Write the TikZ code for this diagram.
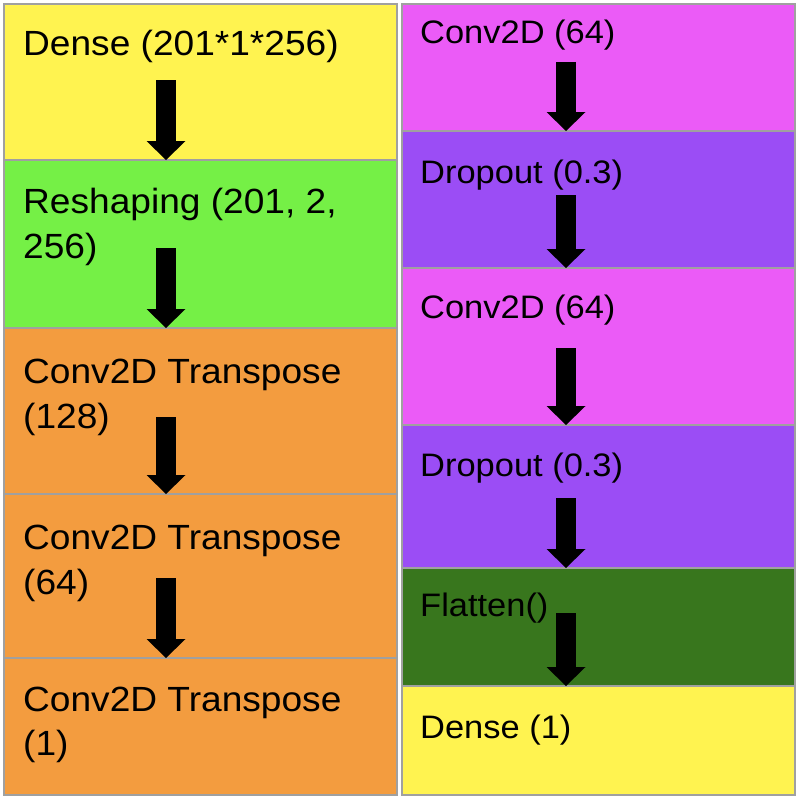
\documentclass[tikz,border=0pt]{standalone}
\usepackage{fontspec}
\setmainfont{Liberation Sans}[FakeStretch=1.06]
\usetikzlibrary{arrows.meta}
\definecolor{yellowc}{HTML}{FFF350}
\definecolor{greenc}{HTML}{75F046}
\definecolor{orangec}{HTML}{F39C3F}
\definecolor{magentac}{HTML}{EB5BF7}
\definecolor{purplec}{HTML}{9B4DF5}
\definecolor{darkgreenc}{HTML}{38761D}
\definecolor{edgec}{HTML}{A0A0A0}
\tikzset{
  layerbox/.style={draw=edgec, line width=1.2pt, inner sep=0pt, outer sep=0pt, anchor=north west, minimum width=393pt},
  lbl/.style={inner sep=0pt, anchor=base west, font=\fontsize{35pt}{45pt}\selectfont, text=black},
  rlbl/.style={lbl, font=\fontsize{32.5pt}{42pt}\selectfont},
  flow/.style={draw=black, line width=20pt, -{Triangle[width=39pt,length=19pt,line width=0pt]}}
}
\begin{document}
\begin{tikzpicture}[x=1pt,y=-1pt]
\useasboundingbox (0,0) rectangle (800,800);
\fill[white] (0,0) rectangle (800,800);
% left column
\node[layerbox, fill=yellowc, minimum height=156pt] (L1) at (4,4) {};
\node[layerbox, fill=greenc, minimum height=168pt] (L2) at (4,160) {};
\node[layerbox, fill=orangec, minimum height=166pt] (L3) at (4,328) {};
\node[layerbox, fill=orangec, minimum height=164pt] (L4) at (4,494) {};
\node[layerbox, fill=orangec, minimum height=137pt] (L5) at (4,658) {};
% right column
\node[layerbox, fill=magentac, minimum height=127pt] (R1) at (402,4) {};
\node[layerbox, fill=purplec, minimum height=137pt] (R2) at (402,131) {};
\node[layerbox, fill=magentac, minimum height=157pt] (R3) at (402,268) {};
\node[layerbox, fill=purplec, minimum height=143pt] (R4) at (402,425) {};
\node[layerbox, fill=darkgreenc, minimum height=118pt] (R5) at (402,568) {};
\node[layerbox, fill=yellowc, minimum height=109pt] (R6) at (402,686) {};
% labels left
\node[lbl] (t1) at (23,56) {Dense (201*1*256)};
\node[lbl] (t2a) at (23,213) {Reshaping (201, 2,};
\node[lbl] (t2b) at (23,258) {256)};
\node[lbl] (t3a) at (23,383) {Conv2D Transpose};
\node[lbl] (t3b) at (23,428) {(128)};
\node[lbl] (t4a) at (23,549) {Conv2D Transpose};
\node[lbl] (t4b) at (23,594) {(64)};
\node[lbl] (t5a) at (23,711) {Conv2D Transpose};
\node[lbl] (t5b) at (23,755) {(1)};
% labels right
\node[rlbl] (u1) at (420,44) {Conv2D (64)};
\node[rlbl] (u2) at (420,183) {Dropout (0.3)};
\node[rlbl] (u3) at (420,318) {Conv2D (64)};
\node[rlbl] (u4) at (420,476) {Dropout (0.3)};
\node[rlbl] (u5) at (420,616) {Flatten()};
\node[rlbl] (u6) at (420,738) {Dense (1)};
% arrows left
\coordinate (a1) at (166,80);
\coordinate (a2) at (166,248);
\coordinate (a3) at (166,417);
\coordinate (a4) at (166,578);
\draw[flow] (a1) -- (a1 |- L2.north);
\draw[flow] (a2) -- (a2 |- L3.north);
\draw[flow] (a3) -- (a3 |- L4.north);
\draw[flow] (a4) -- (a4 |- L5.north);
% arrows right
\coordinate (b1) at (566,62);
\coordinate (b2) at (566,195);
\coordinate (b3) at (566,348);
\coordinate (b4) at (566,498);
\coordinate (b5) at (566,613);
\draw[flow] (b1) -- (b1 |- R2.north);
\draw[flow] (b2) -- (b2 |- R3.north);
\draw[flow] (b3) -- (b3 |- R4.north);
\draw[flow] (b4) -- (b4 |- R5.north);
\draw[flow] (b5) -- (b5 |- R6.north);
\end{tikzpicture}
\end{document}
